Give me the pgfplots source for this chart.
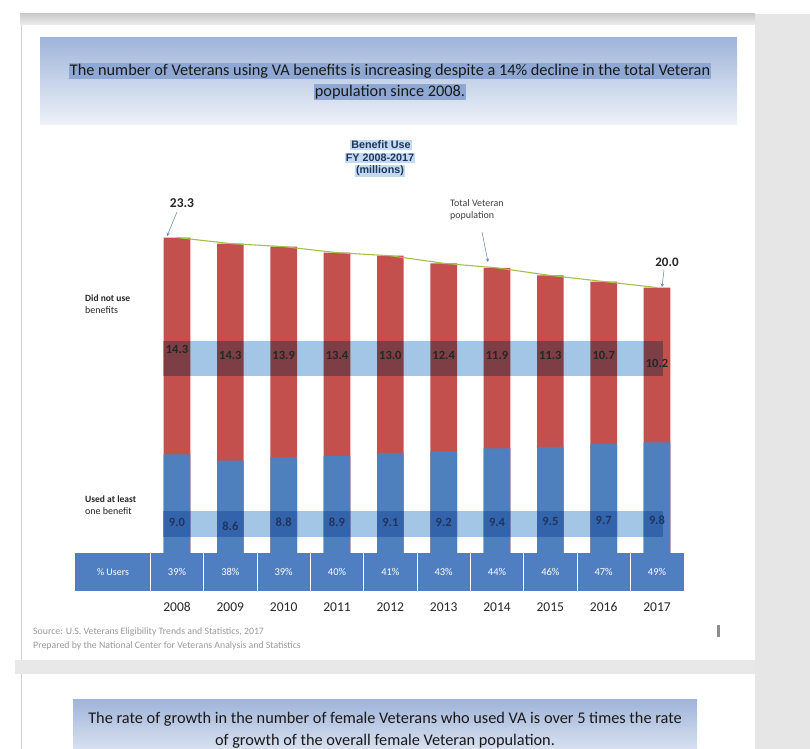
\documentclass[border=0pt]{standalone}
\usepackage{pgfplots}
\usepackage{pgfplotstable}
\pgfplotsset{compat=1.18}
\usepackage{fontspec}
\setmainfont{Carlito}
\newfontfamily\arialf{Liberation Sans}
\definecolor{barred}{HTML}{C4504E}
\definecolor{barblue}{HTML}{4F80BE}
\definecolor{bandc}{HTML}{A3C6E6}
\definecolor{rowblue}{HTML}{4F7FC1}
\definecolor{linegreen}{HTML}{A3C04A}
\definecolor{bgray}{HTML}{E6E6E6}
\definecolor{hl}{HTML}{8FA8D3}
\definecolor{hltwo}{HTML}{C3DBF0}
\definecolor{navy}{HTML}{1F355E}
\definecolor{srcgray}{HTML}{9A9A9A}
\definecolor{arrowc}{HTML}{5B7FA8}

\pgfplotstableread{
x year used notused total pct ry by
0 2008 9.0 14.3 23.3 39 15.9 4.55
1 2009 8.6 14.3 22.9 38 15.5 4.30
2 2010 8.8 13.9 22.7 39 15.5 4.50
3 2011 8.9 13.4 22.3 40 15.5 4.50
4 2012 9.1 13.0 22.1 41 15.5 4.55
5 2013 9.2 12.4 21.6 43 15.5 4.55
6 2014 9.4 11.9 21.3 44 15.5 4.55
7 2015 9.5 11.3 20.8 46 15.5 4.60
8 2016 9.7 10.7 20.4 47 15.5 4.65
9 2017 9.8 10.2 20.0 49 15.0 4.65
}\vets

\begin{document}
\begin{tikzpicture}[x=1bp,y=1bp]
\useasboundingbox (0,0) rectangle (810,749);
\clip (0,0) rectangle (810,749);
% page background
\fill[white] (0,0) rectangle (810,749);
\fill[bgray] (755,0) rectangle (810,735);
\shade[top color=black!20, bottom color=black!7] (20,735) rectangle (755,724);
\draw[black!18] (21.5,724) -- (21.5,89);
\fill[black!9] (15,89) rectangle (755,75);
\draw[black!18] (21.5,75) -- (21.5,0);
% top banner
\shade[top color=hl!85, bottom color=hl!15] (40,711) rectangle (737,624);
\node[fill=hl, inner sep=1.2bp, text=black!90] at (390,678) {\fontsize{16.3bp}{17bp}\selectfont The number of Veterans using VA benefits is increasing despite a 14\% decline in the total Veteran};
\node[fill=hl, inner sep=1.2bp, text=black!90] at (390,657) {\fontsize{16.3bp}{17bp}\selectfont population since 2008.};
% chart title
\node[fill=hltwo, inner sep=0.8bp, text=navy] at (381,604) {\arialf\bfseries\fontsize{10.8bp}{11bp}\selectfont Benefit Use};
\node[fill=hltwo, inner sep=0.8bp, text=navy] at (380,591) {\arialf\bfseries\fontsize{10.8bp}{11bp}\selectfont FY 2008-2017};
\node[fill=hltwo, inner sep=0.8bp, text=navy] at (380,578) {\arialf\bfseries\fontsize{10.8bp}{11bp}\selectfont (millions)};
% left labels
\node[anchor=west, align=left, text=black!85, inner sep=0pt] at (85,445) {\bfseries\fontsize{9.5bp}{14bp}\selectfont Did not use\\benefits};
\node[anchor=west, align=left, text=black!85, inner sep=0pt] at (85,244) {\bfseries\fontsize{9.5bp}{15bp}\selectfont Used at least\\one benefit};

\begin{axis}[at={(161bp,158bp)}, anchor=south west, scale only axis,
  width=512bp, height=379.25bp, xmin=-0.3, xmax=9.3, ymin=0, ymax=25,
  hide axis, clip=false]
\addplot[ybar, bar shift=0pt, bar width=0.5, fill=barred, draw=none] table[x=x,y=total]{\vets};
\addplot[ybar, bar shift=0pt, bar width=0.5, fill=barblue, draw=none] table[x=x,y=used]{\vets};
\addplot[linegreen, line width=1.1pt, mark=none] table[x=x,y=total]{\vets};
\begin{scope}[blend mode=multiply]
\fill[bandc] (axis cs:-0.26,14.2) rectangle (axis cs:9.11,16.5);
\fill[bandc] (axis cs:-0.26,3.55) rectangle (axis cs:9.11,5.3);
\end{scope}
\addplot[draw=none, mark=none, point meta=explicit symbolic, nodes near coords,
  nodes near coords style={anchor=center, text=black!85, font=\bfseries\fontsize{12.5bp}{12bp}\selectfont}]
  table[x=x,y=ry,meta=notused]{\vets};
\addplot[draw=none, mark=none, point meta=explicit symbolic, nodes near coords,
  nodes near coords style={anchor=center, text=navy, font=\bfseries\fontsize{12.5bp}{12bp}\selectfont}]
  table[x=x,y=by,meta=used]{\vets};
% % users row
\fill[rowblue] (axis cs:-1.91,0) rectangle (axis cs:9.5,2.5);
\pgfplotsinvokeforeach{-0.5,0.5,1.5,2.5,3.5,4.5,5.5,6.5,7.5,8.5}{
  \draw[white, line width=0.8pt] (axis cs:#1,0) -- (axis cs:#1,2.5);
}
\node[text=white] at (axis cs:-1.2,1.25) {\fontsize{10bp}{10bp}\selectfont \% Users};
\addplot[draw=none, mark=none, point meta=explicit symbolic,
  nodes near coords={\pgfplotspointmeta\%},
  nodes near coords style={anchor=center, text=white, font=\fontsize{10.5bp}{10bp}\selectfont}]
  table[x=x,y expr=1.25,meta=pct]{\vets};
\addplot[draw=none, mark=none, point meta=explicit symbolic, nodes near coords,
  nodes near coords style={anchor=center, text=black!85, font=\fontsize{13.5bp}{13bp}\selectfont}]
  table[x=x,y expr=-1.05,meta=year]{\vets};
\end{axis}

% annotations
\node[text=black!85] at (182,546) {\bfseries\fontsize{13.5bp}{13bp}\selectfont 23.3};
\draw[arrowc, -stealth, line width=0.5pt] (177,537) -- (167,513);
\node[text=black!85] at (667,487) {\bfseries\fontsize{13bp}{13bp}\selectfont 20.0};
\draw[arrowc, -stealth, line width=0.5pt] (664,479) -- (662,462);
\node[anchor=west, align=left, text=black!75, inner sep=0pt] at (450,539) {\fontsize{10bp}{13bp}\selectfont Total Veteran\\population};
\draw[arrowc, -stealth, line width=0.5pt] (482,517) -- (488,487);
% source
\node[anchor=west, text=srcgray, inner sep=0pt] at (33,117) {\fontsize{9.8bp}{9bp}\selectfont Source: U.S. Veterans Eligibility Trends and Statistics, 2017};
\node[anchor=west, text=srcgray, inner sep=0pt] at (33,103) {\fontsize{9.8bp}{9bp}\selectfont Prepared by the National Center for Veterans Analysis and Statistics};
\fill[black!45] (717,112) rectangle (720,124);
% second banner
\shade[top color=hl!85, bottom color=hl!35] (73,49) rectangle (697,0);
\node[text=black!90] at (385,30) {\fontsize{16.3bp}{17bp}\selectfont The rate of growth in the number of female Veterans who used VA is over 5 times the rate};
\node[text=black!90] at (385,8) {\fontsize{16.3bp}{17bp}\selectfont of growth of the overall female Veteran population.};
\end{tikzpicture}
\end{document}
